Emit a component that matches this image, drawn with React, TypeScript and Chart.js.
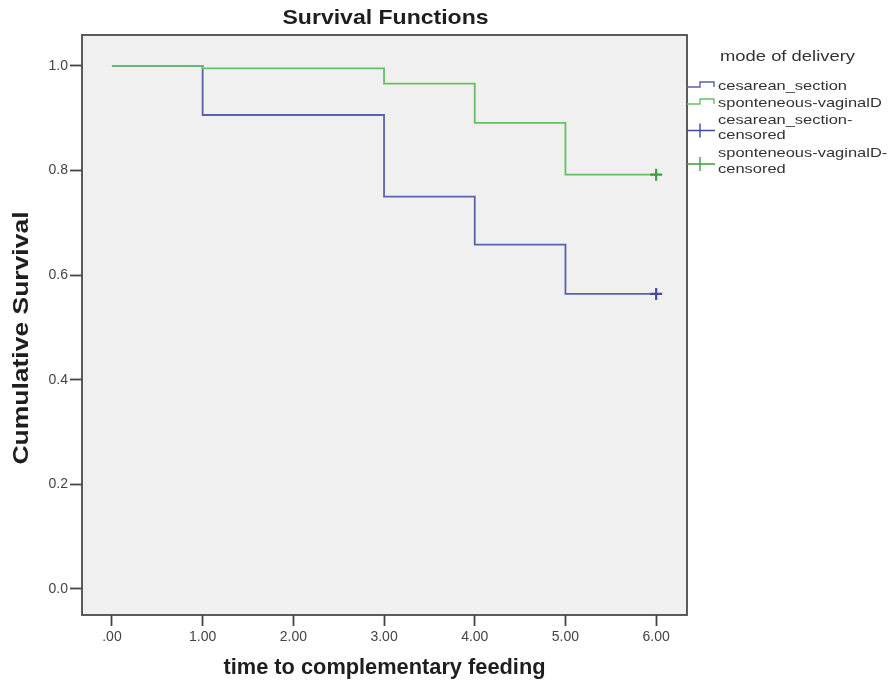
import React, { useEffect, useRef } from "react";
import { Chart, registerables } from "chart.js";

Chart.register(...registerables);

const xTicks = [0, 1, 2, 3, 4, 5, 6];
const yTicks = [0, 0.2, 0.4, 0.6, 0.8, 1.0];
const times = [0, 1, 3, 4, 5, 6];
const cesareanSurvival = [1.0, 0.906, 0.75, 0.658, 0.564, 0.564];
const vaginalSurvival = [1.0, 0.995, 0.966, 0.891, 0.792, 0.792];
const censorTime = 6;
const cesareanCensored = [0.564];
const vaginalCensored = [0.792];

const chartTitle = "Survival Functions";
const xTitle = "time to complementary feeding";
const yTitle = "Cumulative Survival";
const legendTitle = "mode of delivery";
const legendItems = [
  { lines: ["cesarean_section"], kind: "step", series: 0 },
  { lines: ["sponteneous-vaginalD"], kind: "step", series: 1 },
  { lines: ["cesarean_section-", "censored"], kind: "cross", series: 0 },
  { lines: ["sponteneous-vaginalD-", "censored"], kind: "cross", series: 1 },
];

const BLUE = "#5862aa";
const GREEN = "#62c262";
const BLUE_DARK = "#3f4ca0";
const GREEN_DARK = "#3d9e3d";
const FONT = "'Liberation Sans', Arial, sans-serif";

function stretchText(
  ctx: CanvasRenderingContext2D,
  text: string,
  x: number,
  y: number,
  font: string,
  targetWidth: number,
  align: "left" | "center",
  rotate = 0
) {
  ctx.save();
  ctx.font = font;
  const w = ctx.measureText(text).width;
  const sx = targetWidth / w;
  ctx.translate(x, y);
  if (rotate) ctx.rotate(rotate);
  ctx.scale(sx, 1);
  ctx.textAlign = align;
  ctx.textBaseline = "middle";
  ctx.fillText(text, 0, 0);
  ctx.restore();
}

export default function App() {
  const ref = useRef<HTMLCanvasElement | null>(null);
  useEffect(() => {
    document.body.style.margin = "0";
    const canvas = ref.current;
    if (!canvas) return;
    const framePlugin = {
      id: "frame",
      beforeDraw(chart: any) {
        const { ctx, chartArea: a } = chart;
        ctx.save();
        ctx.fillStyle = "#ffffff";
        ctx.fillRect(0, 0, chart.width, chart.height);
        ctx.fillStyle = "#f0f0f0";
        ctx.fillRect(a.left, a.top, a.right - a.left, a.bottom - a.top);
        ctx.restore();
      },
      afterDraw(chart: any) {
        const { ctx, chartArea: a } = chart;
        ctx.save();
        ctx.strokeStyle = "#4a4a4a";
        ctx.lineWidth = 1.8;
        ctx.strokeRect(a.left, a.top, a.right - a.left, a.bottom - a.top);

        // titles
        ctx.fillStyle = "#1e1e1e";
        const cx = (a.left + a.right) / 2;
        stretchText(ctx, chartTitle, cx + 1, 18, `bold 21px ${FONT}`, 206, "center");
        stretchText(ctx, xTitle, cx, 668, `bold 22px ${FONT}`, 322, "center");
        stretchText(ctx, yTitle, 22, (a.top + a.bottom) / 2 + 13, `bold 22px ${FONT}`, 253, "center", -Math.PI / 2);

        // legend
        const lx = a.right;
        ctx.fillStyle = "#333333";
        stretchText(ctx, legendTitle, lx + 33, 57, `14px ${FONT}`, 135, "left");
        ctx.font = `13px ${FONT}`;
        const sx = 129 / ctx.measureText("cesarean_section").width;
        const rows = [86, 103, 120, 135, 153, 169];
        let r = 0;
        legendItems.forEach((it) => {
          const col = it.series === 0 ? BLUE : GREEN;
          ctx.strokeStyle = col;
          ctx.lineWidth = 1.4;
          const y = rows[r];
          if (it.kind === "step") {
            ctx.beginPath();
            ctx.moveTo(lx, y + 1);
            ctx.lineTo(lx + 13, y + 1);
            ctx.lineTo(lx + 13, y - 4);
            ctx.lineTo(lx + 27, y - 4);
            ctx.lineTo(lx + 27, y + 1);
            ctx.stroke();
          } else {
            const cy = (rows[r] + rows[r + 1]) / 2 + 3;
            ctx.strokeStyle = it.series === 0 ? BLUE_DARK : GREEN_DARK;
            ctx.beginPath();
            ctx.moveTo(lx, cy);
            ctx.lineTo(lx + 28, cy);
            ctx.moveTo(lx + 13, cy - 7);
            ctx.lineTo(lx + 13, cy + 7);
            ctx.stroke();
          }
          ctx.fillStyle = "#333333";
          it.lines.forEach((t) => {
            ctx.save();
            ctx.font = `13px ${FONT}`;
            ctx.translate(lx + 31, rows[r]);
            ctx.scale(sx, 1);
            ctx.textAlign = "left";
            ctx.textBaseline = "middle";
            ctx.fillText(t, 0, 0);
            ctx.restore();
            r++;
          });
        });
        ctx.restore();
      },
    };
    const chart = new Chart(canvas, {
      type: "line",
      data: {
        datasets: [
          {
            label: "cesarean_section",
            data: times.map((t, i) => ({ x: t, y: cesareanSurvival[i] })),
            borderColor: BLUE,
            borderWidth: 1.8,
            stepped: "before",
            pointRadius: 0,
            fill: false,
            order: 2,
          },
          {
            label: "sponteneous-vaginalD",
            data: times.map((t, i) => ({ x: t, y: vaginalSurvival[i] })),
            borderColor: GREEN,
            borderWidth: 1.8,
            stepped: "before",
            pointRadius: 0,
            fill: false,
            order: 1,
          },
          {
            label: "cesarean_section-censored",
            data: cesareanCensored.map((v) => ({ x: censorTime, y: v })),
            showLine: false,
            pointStyle: "cross",
            pointRadius: 6,
            borderColor: BLUE_DARK,
            pointBorderWidth: 2.2,
            order: 0,
          } as any,
          {
            label: "sponteneous-vaginalD-censored",
            data: vaginalCensored.map((v) => ({ x: censorTime, y: v })),
            showLine: false,
            pointStyle: "cross",
            pointRadius: 6,
            borderColor: GREEN_DARK,
            pointBorderWidth: 2.2,
            order: 0,
          } as any,
        ],
      },
      options: {
        animation: false,
        responsive: false,
        layout: { padding: { left: 0, right: 202, top: 35, bottom: 0 } },
        plugins: {
          legend: { display: false },
          tooltip: { enabled: false },
          title: { display: false },
        },
        scales: {
          x: {
            type: "linear",
            min: -0.33,
            max: 6.34,
            afterBuildTicks: (s: any) => {
              s.ticks = xTicks.map((v) => ({ value: v }));
            },
            afterFit: (s: any) => {
              s.height = 73;
            },
            grid: { drawOnChartArea: false, drawTicks: true, tickLength: 11, tickColor: "#444444", tickWidth: 1.8 },
            border: { display: false },
            ticks: {
              color: "#444444",
              padding: 3,
              font: { size: 14, family: FONT },
              maxRotation: 0,
              autoSkip: false,
              callback: (v: any) => (v === 0 ? ".00" : Number(v).toFixed(2)),
            },
          },
          y: {
            type: "linear",
            min: -0.05,
            max: 1.059,
            afterBuildTicks: (s: any) => {
              s.ticks = yTicks.map((v) => ({ value: v }));
            },
            afterFit: (s: any) => {
              s.width = 82;
            },
            grid: { drawOnChartArea: false, drawTicks: true, tickLength: 12, tickColor: "#444444", tickWidth: 1.8 },
            border: { display: false },
            ticks: {
              color: "#444444",
              padding: 2,
              font: { size: 14, family: FONT },
              autoSkip: false,
              callback: (v: any) => Number(v).toFixed(1),
            },
          },
        },
      } as any,
      plugins: [framePlugin],
    });
    return () => chart.destroy();
  }, []);
  return <canvas ref={ref} width={889} height={688} style={{ display: "block" }} />;
}
